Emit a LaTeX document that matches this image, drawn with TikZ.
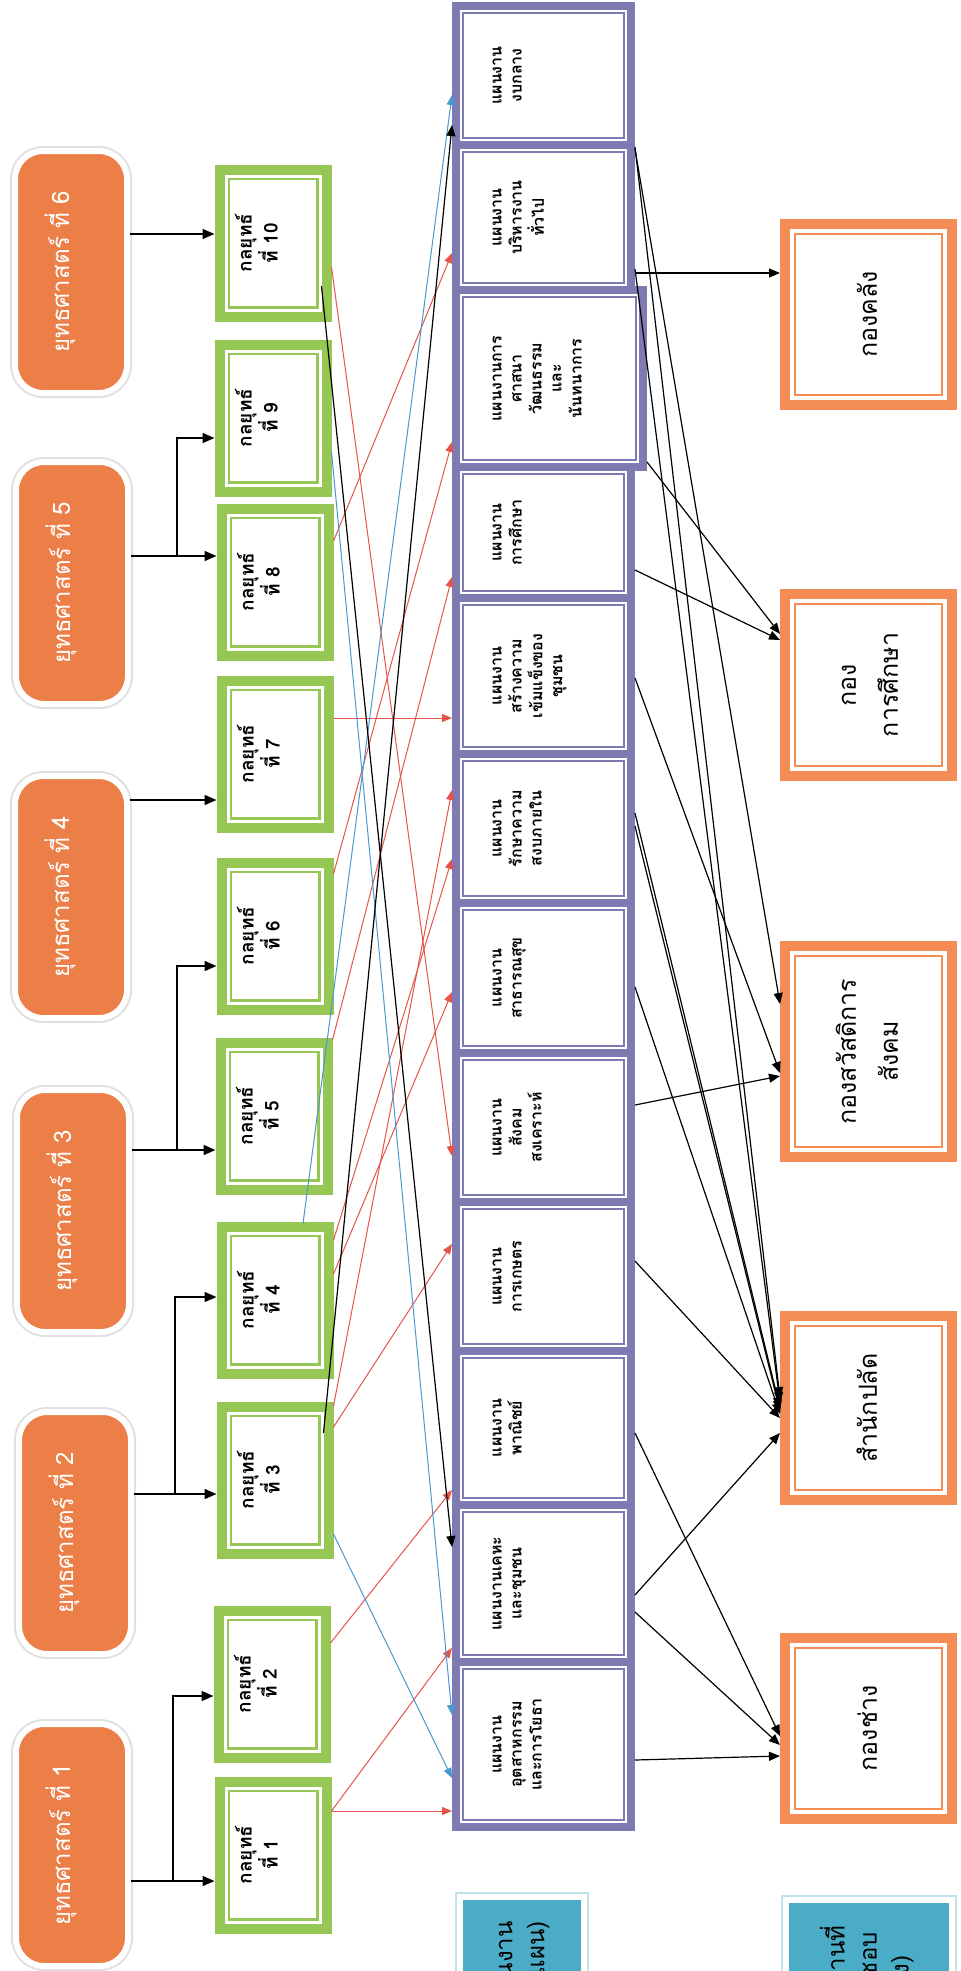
\documentclass[tikz,border=0pt]{standalone}
\usepackage{fontspec}
\usepackage{graphicx}
\setmainfont[Script=Thai]{Loma}
\usetikzlibrary{calc, arrows.meta}

\definecolor{stratorange}{RGB}{236,126,72}
\definecolor{leafgreen}{RGB}{150,198,84}
\definecolor{lilac}{RGB}{126,122,178}
\definecolor{deptorange}{RGB}{244,140,86}
\definecolor{skyblue}{RGB}{74,172,198}
\definecolor{linkred}{RGB}{228,84,74}
\definecolor{linkblue}{RGB}{72,152,208}

\newcommand{\vtext}[1]{\rotatebox{90}{\begin{tabular}{@{}c@{}}#1\end{tabular}}}
\newcommand{\vtextr}[1]{\rotatebox{90}{\begin{tabular}{@{}r@{}}#1\end{tabular}}}

\tikzstyle{stratbox}=[rounded corners=14pt, fill=stratorange, draw=white, line width=3pt,
  preaction={draw=black!12, line width=5pt}, minimum width=56pt, minimum height=121pt,
  inner sep=0pt, text=white, font=\fontsize{12}{14}\selectfont]
\tikzstyle{goalbox}=[draw=leafgreen, line width=5pt, fill=white, minimum width=53.5pt,
  minimum height=73.5pt, inner sep=0pt, font=\fontsize{9.5}{10.5}\selectfont\bfseries,
  path picture={\draw[leafgreen, line width=1.2pt]
    ([shift={(4.6pt,4.6pt)}]path picture bounding box.south west) rectangle
    ([shift={(-4.6pt,-4.6pt)}]path picture bounding box.north east);}]
\tikzstyle{planbox}=[draw=lilac, line width=4pt, fill=white, minimum width=87.5pt,
  inner sep=0pt, font=\fontsize{8}{10}\selectfont\bfseries,
  path picture={\draw[lilac, line width=0.9pt]
    ([shift={(3.6pt,3.6pt)}]path picture bounding box.south west) rectangle
    ([shift={(-3.6pt,-3.6pt)}]path picture bounding box.north east);}]
\tikzstyle{deptbox}=[draw=deptorange, line width=5pt, fill=white, minimum width=83.5pt,
  inner sep=0pt, font=\fontsize{12.5}{21}\selectfont,
  path picture={\draw[deptorange, line width=1pt]
    ([shift={(4.8pt,4.8pt)}]path picture bounding box.south west) rectangle
    ([shift={(-4.8pt,-4.8pt)}]path picture bounding box.north east);}]
\tikzstyle{labelbox}=[fill=skyblue, draw=white, line width=3pt,
  preaction={draw=skyblue!35, line width=5pt}, inner sep=0pt,
  font=\fontsize{12}{16}\selectfont]
\tikzstyle{feed}=[-{Triangle[length=6pt,width=5pt]}, line width=0.8pt]
\tikzstyle{redlink}=[-{Triangle[length=5pt,width=4pt]}, linkred, line width=0.5pt]
\tikzstyle{bluelink}=[-{Triangle[length=5pt,width=4pt]}, linkblue, line width=0.5pt]
\tikzstyle{blacklink}=[-{Triangle[length=5.5pt,width=4.5pt]}, line width=0.6pt]

\newcommand{\strat}{\node[stratbox]}
\newcommand{\goal}{\node[goalbox]}
\newcommand{\plan}[1]{\node[planbox, minimum height=#1]}
\newcommand{\dept}[1]{\node[deptbox, minimum height=#1]}

\begin{document}
\begin{tikzpicture}[x=0.5pt, y=-0.5pt]
\useasboundingbox (0,0) rectangle (961,1971);

% strategies
\strat (s6) at (71,272) {\vtext{ยุทธศาสตร์ ที่ 6}\hspace*{10pt}};
\strat (s5) at (72,583) {\vtext{ยุทธศาสตร์ ที่ 5}\hspace*{10pt}};
\strat (s4) at (71,897) {\vtext{ยุทธศาสตร์ ที่ 4}\hspace*{10pt}};
\strat (s3) at (73,1211) {\vtext{ยุทธศาสตร์ ที่ 3}\hspace*{10pt}};
\strat (s2) at (75,1533) {\vtext{ยุทธศาสตร์ ที่ 2}\hspace*{10pt}};
\strat (s1) at (72,1845) {\vtext{ยุทธศาสตร์ ที่ 1}\hspace*{10pt}};

% tactics
\goal (g10) at (273,243) {\makebox[38pt][l]{\vtext{กลยุทธ์\\ที่ 10}}};
\goal (g9) at (273,418) {\makebox[38pt][l]{\vtext{กลยุทธ์\\ที่ 9}}};
\goal (g8) at (275,582) {\makebox[38pt][l]{\vtext{กลยุทธ์\\ที่ 8}}};
\goal (g7) at (275,754) {\makebox[38pt][l]{\vtext{กลยุทธ์\\ที่ 7}}};
\goal (g6) at (275,936) {\makebox[38pt][l]{\vtext{กลยุทธ์\\ที่ 6}}};
\goal (g5) at (274,1116) {\makebox[38pt][l]{\vtext{กลยุทธ์\\ที่ 5}}};
\goal (g4) at (275,1300) {\makebox[38pt][l]{\vtext{กลยุทธ์\\ที่ 4}}};
\goal (g3) at (275,1480) {\makebox[38pt][l]{\vtext{กลยุทธ์\\ที่ 3}}};
\goal (g2) at (272,1684) {\makebox[38pt][l]{\vtext{กลยุทธ์\\ที่ 2}}};
\goal (g1) at (273,1855) {\makebox[38pt][l]{\vtext{กลยุทธ์\\ที่ 1}}};

% plans
\plan{69.5pt} (p1) at (543.5,75.5) {\makebox[56pt][l]{\vtext{แผนงาน\\งบกลาง}}};
\plan{72.5pt} (p2) at (543.5,217.5) {\makebox[56pt][l]{\vtext{แผนงาน\\บริหารงาน\\ทั่วไป}}};
\node[planbox, minimum height=88.5pt, minimum width=93.5pt] (p3) at (549.5,378.5)
  {\makebox[62pt][l]{\vtext{แผนงานการ\\ศาสนา\\วัฒนธรรม\\และ\\นันทนาการ}}};
\plan{65.5pt} (p4) at (543.5,532.5) {\makebox[56pt][l]{\vtext{แผนงาน\\การศึกษา}}};
\plan{78pt} (p5) at (543.5,676) {\makebox[56pt][l]{\vtext{แผนงาน\\สร้างความ\\เข้มแข็งของ\\ชุมชน}}};
\plan{74.5pt} (p6) at (543.5,828.5) {\makebox[56pt][l]{\vtext{แผนงาน\\รักษาความ\\สงบภายใน}}};
\plan{75pt} (p7) at (543.5,978) {\makebox[56pt][l]{\vtext{แผนงาน\\สาธารณสุข}}};
\plan{74.5pt} (p8) at (543.5,1127.5) {\makebox[56pt][l]{\vtext{แผนงาน\\สังคม\\สงเคราะห์}}};
\plan{74.5pt} (p9) at (543.5,1276.5) {\makebox[56pt][l]{\vtext{แผนงาน\\การเกษตร}}};
\plan{77pt} (p10) at (543.5,1428) {\makebox[56pt][l]{\vtext{แผนงาน\\พาณิชย์}}};
\plan{78.5pt} (p11) at (543.5,1583.5) {\makebox[56pt][l]{\vtext{แผนงานเคหะ\\และชุมชน}}};
\plan{82.5pt} (p12) at (543.5,1744.5) {\makebox[56pt][l]{\vtext{แผนงาน\\อุตสาหกรรม\\และการโยธา}}};

% divisions
\dept{90.5pt} (k1) at (868.5,314.5) {\vtext{กองคลัง}};
\dept{91pt} (k2) at (868.5,685) {\vtext{กอง\\การศึกษา}};
\dept{105.5pt} (k3) at (868.5,1051.5) {\vtext{กองสวัสดิการ\\สังคม}};
\dept{92pt} (k4) at (868.5,1408) {\vtext{สำนักปลัด}};
\dept{90.5pt} (k5) at (868.5,1728.5) {\vtext{กองช่าง}};

% row labels
\node[labelbox, minimum width=62pt, minimum height=68pt, anchor=north] (c1) at (522,1894)
  {\vtextr{แผนงาน\\(แผน)}};
\node[labelbox, minimum width=83pt, minimum height=84pt, anchor=north] (c2) at (869,1897)
  {\vtext{หน่วยงานที่\\รับผิดชอบ\\(กอง)}};

% strategy to tactic
\coordinate (j1) at (173,1881);
\coordinate (j2) at (175,1494);
\coordinate (j3) at (177,1150);
\coordinate (j5) at (177,556);
\draw[feed] (s1.east |- j1) -- (g1.west |- j1);
\draw[feed] (j1) |- (g2.west |- 0,1696);
\draw[feed] (s2.east |- j2) -- (g3.west |- j2);
\draw[feed] (j2) |- (g4.west |- 0,1297);
\draw[feed] (s3.east |- j3) -- (g5.west |- j3);
\draw[feed] (j3) |- (g6.west |- 0,966);
\draw[feed] (s4.east |- 0,800) -- (g7.west |- 0,800);
\draw[feed] (s5.east |- j5) -- (g8.west |- j5);
\draw[feed] (j5) |- (g9.west |- 0,438);
\draw[feed] (s6.east |- 0,234) -- (g10.west |- 0,234);

% tactic to plan
\draw[redlink] (g1.east |- 0,1811) -- (p12.west |- 0,1811);
\draw[redlink] (g1.east |- 0,1811) -- (p11.west |- 0,1648);
\draw[redlink] (g2.east |- 0,1643) -- (p10.west |- 0,1490);
\draw[redlink] (g3.east |- 0,1427) -- (p9.west |- 0,1244);
\draw[redlink] (g3.east |- 0,1406) -- (p6.west |- 0,790);
\draw[redlink] (g4.east |- 0,1240) -- (p6.west |- 0,859);
\draw[redlink] (g4.east |- 0,1274) -- (p7.west |- 0,992);
\draw[redlink] (g5.east |- 0,1040) -- (p4.west |- 0,577);
\draw[redlink] (g6.east |- 0,874) -- (p3.west |- 0,442);
\draw[redlink] (g7.east |- 0,718) -- (p5.west |- 0,718);
\draw[redlink] (g8.east |- 0,541) -- (p2.west |- 0,253);
\draw[redlink] (g10.east |- 0,267) -- (p8.west |- 0,1156);
\draw[bluelink] ($(g4.north)+(28,2)$) -- (p1.west |- 0,95);
\draw[bluelink] (g9.east |- 0,452) -- (p12.west |- 0,1715);
\draw[bluelink] (g3.east |- 0,1534) -- (p12.west |- 0,1778);
\draw[blacklink] ($(g3.east)+(-10,-47)$) -- (p1.west |- 0,125);
\draw[blacklink] ($(g10.east)+(-10,43)$) -- (p11.west |- 0,1547);

% plan to division
\draw[blacklink] (p2.east |- 0,273) -- (k1.west |- 0,273);
\draw[blacklink] (p3.east |- 0,462) -- (k2.west |- 0,634);
\draw[blacklink] (p4.east |- 0,570) -- (k2.west |- 0,640);
\draw[blacklink] (p1.east |- 0,149) -- (k3.west |- 0,1004);
\draw[blacklink] (p5.east |- 0,678) -- (k3.west |- 0,1073);
\draw[blacklink] (p8.east |- 0,1105) -- (k3.west |- 0,1076);
\draw[blacklink] (p1.east |- 0,147) -- (k4.west |- 0,1398);
\draw[blacklink] (p2.east |- 0,269) -- (k4.west |- 0,1403);
\draw[blacklink] (p6.east |- 0,813) -- (k4.west |- 0,1408);
\draw[blacklink] (p6.east |- 0,826) -- (k4.west |- 0,1411);
\draw[blacklink] (p7.east |- 0,987) -- (k4.west |- 0,1414);
\draw[blacklink] (p9.east |- 0,1261) -- (k4.west |- 0,1418);
\draw[blacklink] (p11.east |- 0,1595) -- (k4.west |- 0,1433);
\draw[blacklink] (p10.east |- 0,1433) -- (k5.west |- 0,1736);
\draw[blacklink] (p11.east |- 0,1612) -- (k5.west |- 0,1745);
\draw[blacklink] (p12.east |- 0,1760) -- (k5.west |- 0,1756);
\end{tikzpicture}
\end{document}
